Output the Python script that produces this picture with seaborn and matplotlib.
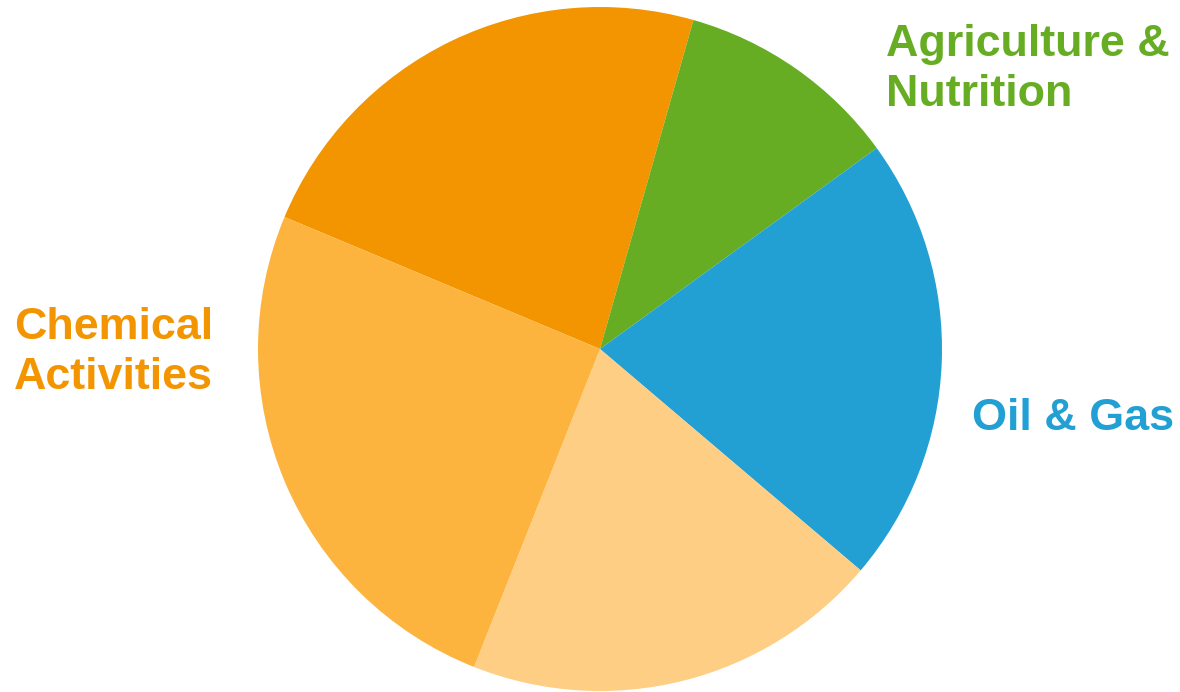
import matplotlib
matplotlib.use("Agg")
import matplotlib.pyplot as plt
import seaborn as sns

# Sector shares (%), clockwise from the upper-left slice
sectors = ["Chemical (core)", "Agriculture & Nutrition", "Oil & Gas",
           "Chemical (other)", "Chemical Activities"]
shares = [23.1, 10.6, 21.2, 19.8, 25.3]
colors = ["#F39500", "#67AD23", "#22A0D3", "#FDCE84", "#FDB43E"]

# Outside labels: text, colour, left x and first-line baseline (figure pixels)
label_texts = ["Agriculture &\nNutrition", "Oil & Gas", "Chemical\nActivities"]
label_colors = ["#67AD23", "#22A0D3", "#F39500"]
label_x = [886, 972, 14]
label_y = [56, 430, 339]

sns.set_theme(style="white")
plt.rcParams["font.family"] = ["Liberation Sans", "DejaVu Sans"]

W, H = 1180, 692
fig = plt.figure(figsize=(W / 100, H / 100), dpi=100)
fig.patch.set_facecolor("white")

cx, cy, r = 600, 349, 342
ax = fig.add_axes([(cx - r) / W, (H - cy - r) / H, 2 * r / W, 2 * r / H])
ax.pie(shares, colors=colors, startangle=157.3, counterclock=False,
       radius=1.0, wedgeprops=dict(linewidth=0))
ax.set_xlim(-1, 1)
ax.set_ylim(-1, 1)
ax.set_aspect("equal")
ax.axis("off")

line_gap = 50
for text, col, x, y in zip(label_texts, label_colors, label_x, label_y):
    for i, line in enumerate(text.split("\n")):
        fig.text(x / W, 1 - (y + i * line_gap) / H, line, color=col,
                 fontsize=32.3, fontweight="bold", ha="left", va="baseline")

fig.savefig("out.png", dpi=100, facecolor="white")
